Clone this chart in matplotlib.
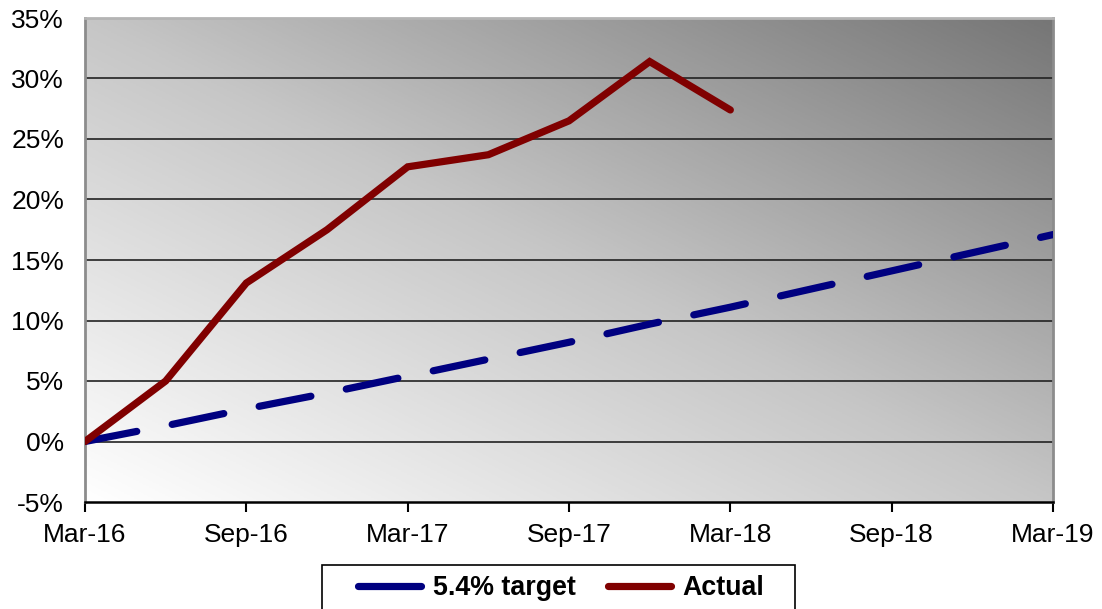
import matplotlib.pyplot as plt
import numpy as np
from matplotlib.colors import LinearSegmentedColormap
from matplotlib.patches import Rectangle

# data
quarters = ["Mar-16", "Jun-16", "Sep-16", "Dec-16", "Mar-17", "Jun-17", "Sep-17",
            "Dec-17", "Mar-18", "Jun-18", "Sep-18", "Dec-18", "Mar-19"]
target = [0.0, 1.3, 2.7, 4.0, 5.4, 6.8, 8.2, 9.7, 11.1, 12.6, 14.1, 15.6, 17.1]
actual = [0.0, 5.0, 13.1, 17.5, 22.7, 23.7, 26.5, 31.4, 27.4]
y_ticks = [-5, 0, 5, 10, 15, 20, 25, 30, 35]

plt.rcParams['font.family'] = ['Liberation Sans', 'DejaVu Sans']

fig = plt.figure(figsize=(11.02, 6.09), dpi=100)
ax = fig.add_axes([85/1102, 1-502/609, (1053-85)/1102, (502-18)/609])

x = np.arange(len(quarters))

# gradient background
gx, gy = np.meshgrid(np.linspace(0, 1, 300), np.linspace(0, 1, 300))
grad = (gx + gy) / 2
cmap = LinearSegmentedColormap.from_list("bg", [(0, "#ffffff"), (0.5, "#c6c6c6"), (1, "#767676")])
ax.imshow(grad, cmap=cmap, origin='lower', extent=[0, 1, 0, 1], transform=ax.transAxes,
          aspect='auto', zorder=0, vmin=0, vmax=1)

ax.set_xlim(0, 12)
ax.set_ylim(-5, 35)

for v in y_ticks[1:-1]:
    ax.axhline(v, color='#222222', lw=1.2, zorder=1)

ax.plot(x, target, color='#000080', lw=5.2, linestyle=(0, (7.3, 5)), dash_capstyle='round',
        solid_capstyle='round', label='5.4% target', zorder=3)
ax.plot(x[:len(actual)], actual, color='#800000', lw=5.2, solid_capstyle='round',
        solid_joinstyle='miter', label='Actual', zorder=4)

ax.set_yticks(y_ticks)
ax.set_yticklabels(["{}%".format(v) for v in y_ticks])
ax.set_xticks(x[::2])
ax.set_xticklabels(quarters[::2])
ax.tick_params(axis='y', length=0, pad=15, labelsize=19)
ax.tick_params(axis='x', length=7, width=1.5, direction='out', pad=8, labelsize=19)

for s in ['left', 'right', 'top']:
    ax.spines[s].set_color('#8c8c8c')
    ax.spines[s].set_linewidth(2)
ax.spines['top'].set_color('#b4b4b4')
ax.spines['bottom'].set_color('black')
ax.spines['bottom'].set_linewidth(1.8)

# legend box (runs off the bottom edge like the original)
fig.patches.append(Rectangle((322/1102, -0.05), (795-322)/1102, 0.05 + 1-565/609,
                             transform=fig.transFigure, facecolor='white',
                             edgecolor='black', linewidth=1.2, zorder=5))
leg = fig.legend(loc='center', bbox_to_anchor=(561/1102, 1-588/609), ncol=2,
                 prop={'weight': 'bold', 'size': 19.3}, frameon=False,
                 handlelength=2.35, handletextpad=0.45, columnspacing=1.2,
                 borderpad=0, borderaxespad=0)
leg.set_zorder(6)
for h in leg.get_lines():
    h.set_linestyle('-')
    h.set_linewidth(5.2)

fig.savefig("out.png", dpi=100)
